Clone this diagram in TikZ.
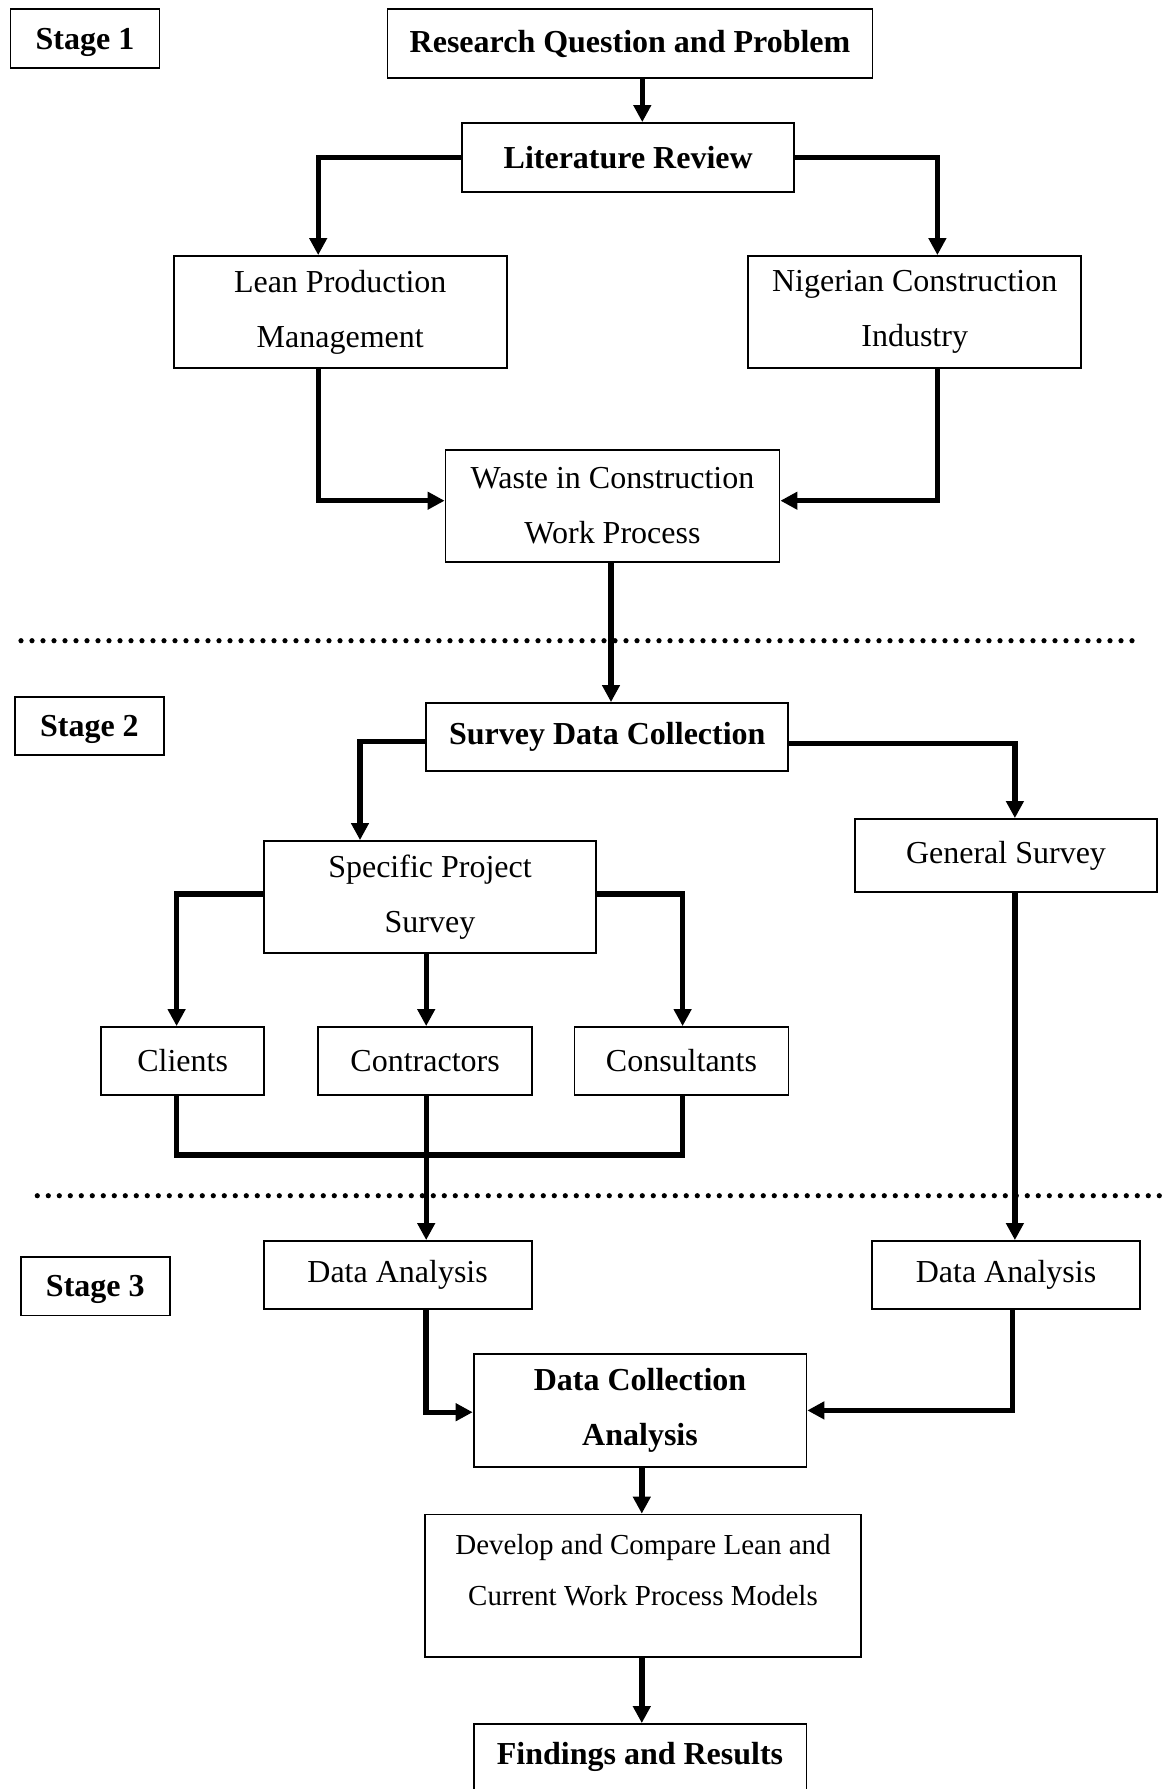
\documentclass[tikz,border=0pt]{standalone}
\usepackage{fontspec}
\setmainfont{Liberation Serif}
\usetikzlibrary{arrows.meta}

\tikzset{
    box/.style={draw, line width=0.9pt, inner sep=2pt, align=center, font=\fontsize{16}{27.5}\selectfont},
    boldbox/.style={box, font=\fontsize{16}{27.5}\selectfont\bfseries},
    stagebox/.style={boldbox, minimum width=74.5pt, text depth=0pt},
    flow/.style={line width=2.7pt, -{Triangle[length=8.5pt,width=8.5pt]}},
    link/.style={line width=2.7pt},
    sepline/.style={line width=2.6pt, line cap=round, dash pattern=on 0pt off 5.5pt},
}

\begin{document}
\begin{tikzpicture}[x=0.5pt, y=-0.5pt]
        \useasboundingbox (0,0) rectangle (1167,1789);
        \draw[sepline] (21,640.7) to (1133,640.7);
        \draw[sepline] (37.3,1195.7) to (1167,1195.7);

        \node[stagebox, minimum height=29.5pt] (stage1) at (85,38.5) {Stage 1};
        \node[boldbox, minimum width=242.5pt, minimum height=34.5pt] (research) at (630,43.5) {Research Question and Problem};
        \node[boldbox, minimum width=166pt, minimum height=34.5pt] (lit) at (628.2,157.5) {Literature Review};
            \node[box, minimum width=166.5pt, minimum height=56pt] (lean) at (340.2,312) {Lean Production\\Management};
            \node[box, minimum width=166.5pt, minimum height=56pt] (nig) at (914.7,312) {Nigerian Construction\\Industry};
        \node[box, minimum width=167pt, minimum height=56pt] (waste) at (612.5,506) {Waste in Construction\\Work Process};

        \node[stagebox, minimum height=29pt] (stage2) at (89.4,726) {Stage 2};
        \node[boldbox, minimum width=181pt, minimum height=34pt] (survey) at (607.3,737) {Survey Data Collection};
            \node[box, minimum width=166pt, minimum height=56pt] (specific) at (430,897) {Specific Project\\Survey};
            \node[box, minimum width=151.25pt, minimum height=36.5pt] (general) at (1006,855.5) {General Survey};
                \node[box, minimum width=81.25pt, minimum height=34pt] (clients) at (182.6,1061) {Clients};
                \node[box, minimum width=107pt, minimum height=34pt] (contractors) at (425.1,1061) {Contractors};
                \node[box, minimum width=107pt, minimum height=34pt] (consultants) at (681.5,1061) {Consultants};

        \node[stagebox, minimum height=29.4pt] (stage3) at (95.3,1286) {Stage 3};
            \node[box, minimum width=134pt, minimum height=34pt] (da1) at (397.6,1275) {Data Analysis};
            \node[box, minimum width=134pt, minimum height=34pt] (da2) at (1006,1275) {Data Analysis};
        \node[boldbox, minimum width=166.4pt, minimum height=56.2pt] (dca) at (640,1410.4) {Data Collection\\Analysis};
        \node[box, minimum width=217.8pt, minimum height=71.25pt, font=\fontsize{14.5}{25.4}\selectfont] (develop) at (643,1585.8)
            {\begin{tabular}{@{}c@{}}Develop and Compare Lean and\\Current Work Process Models\\[15.8pt]\end{tabular}};
        \node[boldbox, minimum width=166.4pt, minimum height=33pt] (findings) at (640,1757) {Findings and Results};

        \coordinate (joint) at (0,1155);

        \draw[flow] ([xshift=6.15pt]research.south) to ([xshift=6.15pt]research.south |- lit.north);
        \draw[flow] (lit.west) -| ([xshift=-11pt]lean.north);
        \draw[flow] (lit.east) -| ([xshift=11.35pt]nig.north);
        \draw[flow] ([xshift=-11pt]lean.south) |- ([yshift=2.65pt]waste.west);
        \draw[flow] ([xshift=11.35pt]nig.south) |- ([yshift=2.65pt]waste.east);
        \draw[flow] ([xshift=-0.75pt]waste.south) to ([xshift=-0.75pt]waste.south |- survey.north);

        \draw[flow] ([yshift=-2.35pt]survey.west) -| ([xshift=-35pt]specific.north);
        \draw[flow] ([yshift=-3.15pt]survey.east) -| ([xshift=4.45pt]general.north);
        \draw[flow] ([yshift=1.5pt]specific.west) -| ([xshift=-3pt]clients.north);
        \draw[flow] ([yshift=1.5pt]specific.east) -| ([xshift=0.55pt]consultants.north);
        \draw[flow] ([xshift=0.55pt]contractors.north |- specific.south) to ([xshift=0.55pt]contractors.north);
        \draw[link] ([xshift=-3pt]clients.south) to ([xshift=-3pt]clients.south |- joint) -| ([xshift=0.55pt]consultants.south);

        \draw[flow] ([xshift=0.55pt]contractors.south) to ([xshift=0.55pt]contractors.south |- da1.north);
        \draw[flow] ([xshift=4.45pt]general.south) to ([xshift=4.45pt]general.south |- da2.north);
        \draw[flow] ([xshift=14.15pt]da1.south) |- ([yshift=-0.9pt]dca.west);
        \draw[flow] ([xshift=3.35pt]da2.south) |- (dca.east);
        \draw[flow] ([xshift=0.9pt]dca.south) to ([xshift=0.9pt]dca.south |- develop.north);
        \draw[flow] ([xshift=-0.6pt]develop.south) to ([xshift=-0.6pt]develop.south |- findings.north);
\end{tikzpicture}
\end{document}
